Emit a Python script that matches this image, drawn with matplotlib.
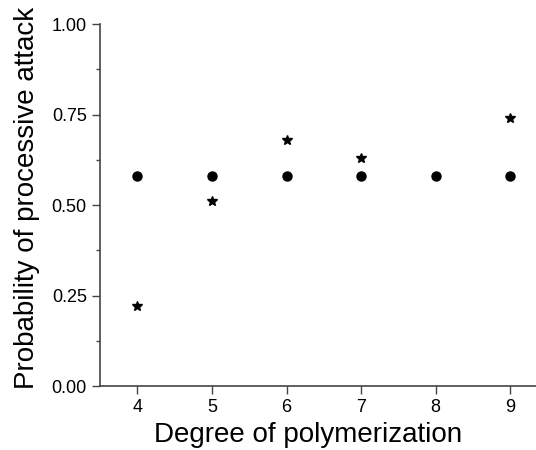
import matplotlib

matplotlib.use("Agg")
import matplotlib.pyplot as plt
from matplotlib.ticker import MultipleLocator

plt.rcParams["font.family"] = ["Liberation Sans", "DejaVu Sans"]

degree = [4, 5, 6, 7, 8, 9]
prob_circle = [0.58, 0.58, 0.58, 0.58, 0.58, 0.58]
star_degree = [4, 5, 6, 7, 9]
prob_star = [0.22, 0.51, 0.68, 0.63, 0.74]

fig = plt.figure(figsize=(5.36, 4.5), dpi=100)
ax = fig.add_axes([0.1866, 0.1422, 0.835, 0.8044])

ax.plot(degree, prob_circle, "o", color="black", markersize=6.5, linestyle="none")
ax.plot(star_degree, prob_star, "*", color="black", markersize=7, linestyle="none")

ax.set_xlim(3.5, 9.5)
ax.set_ylim(0, 1.0)
ax.set_xticks(degree)
ax.set_yticks([0, 0.25, 0.5, 0.75, 1.0])
ax.set_yticklabels(["0.00", "0.25", "0.50", "0.75", "1.00"])
ax.yaxis.set_minor_locator(MultipleLocator(0.125))

for side in ["top", "right"]:
    ax.spines[side].set_visible(False)
for side in ["left", "bottom"]:
    ax.spines[side].set_color("#444444")
    ax.spines[side].set_linewidth(1.2)

ax.tick_params(axis="both", which="major", direction="out", length=6, width=1,
               labelsize=13, colors="#444444", labelcolor="black")
ax.tick_params(axis="y", which="minor", direction="out", length=3, width=1, colors="#444444")

ax.set_xlabel("Degree of polymerization", fontsize=20)
ax.set_ylabel("Probability of processive attack", fontsize=20)
ax.xaxis.set_label_coords(0.465, -0.1)
ax.yaxis.set_label_coords(-0.133, 0.52)

fig.savefig("out.png", dpi=100)
